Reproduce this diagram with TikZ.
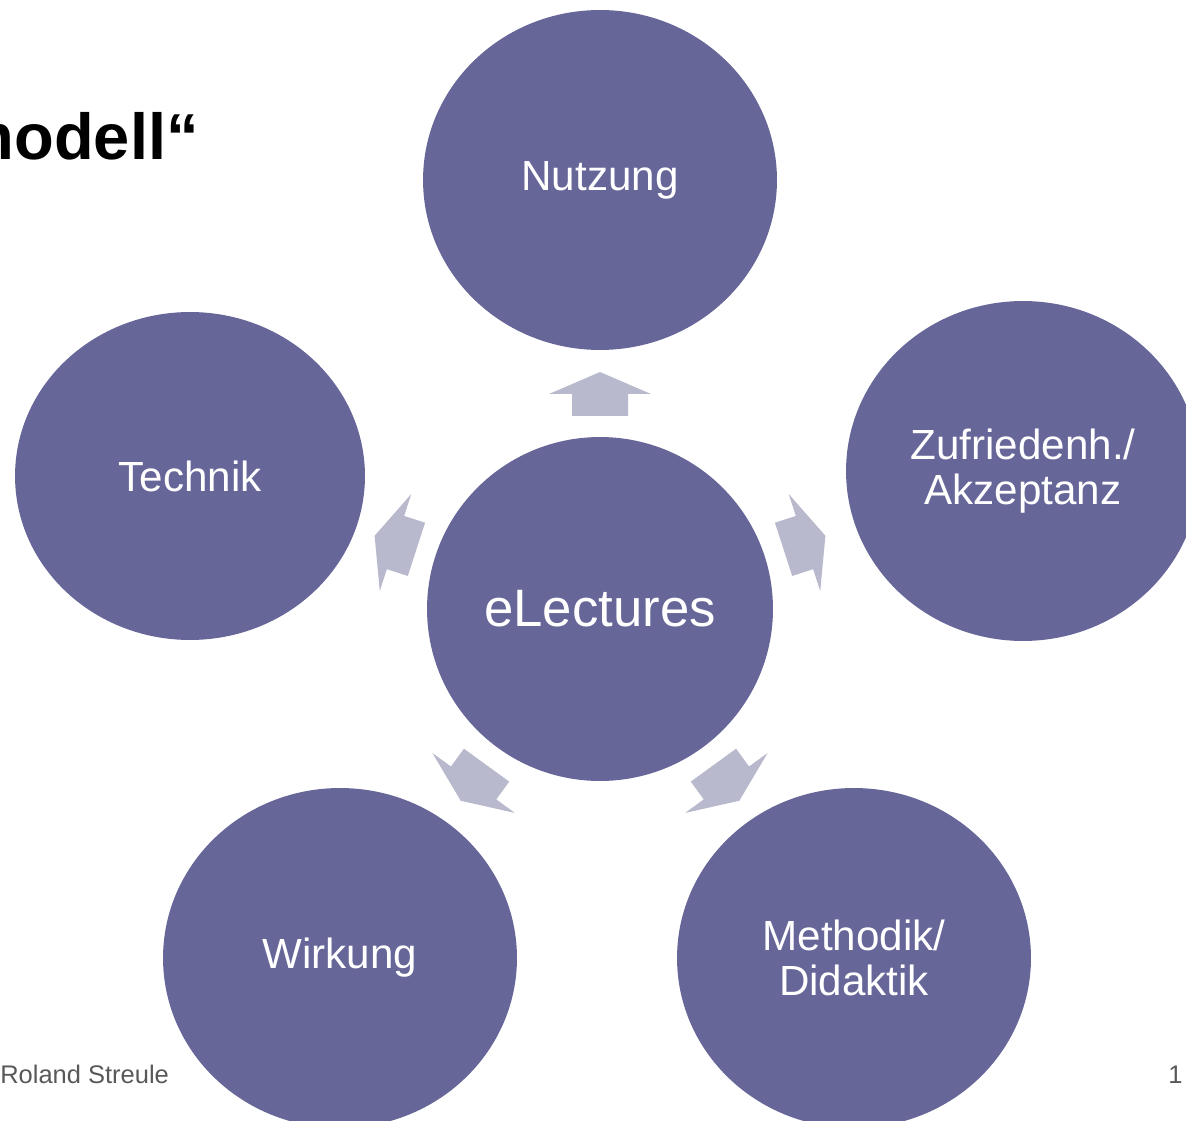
\documentclass[tikz,border=0pt]{standalone}
\usepackage{fontspec}
\setmainfont{Liberation Sans}
\usetikzlibrary{shapes.geometric}
\definecolor{bubble}{RGB}{102,102,153}
\definecolor{pointer}{RGB}{185,185,206}
\definecolor{footgray}{RGB}{89,89,89}

\begin{document}
\begin{tikzpicture}
        [
          x=0.02cm, y=-0.02cm,
          topic/.style={ellipse, fill=bubble, text=white, align=center,
            minimum width=7.08cm, minimum height=6.8cm, inner sep=0pt,
            font=\fontsize{24}{25.5}\selectfont},
          foot/.style={text=footgray, font=\fontsize{14.5}{16}\selectfont}
        ]
        \useasboundingbox (0,0) rectangle (1186,1121);
        \clip (0,0) rectangle (1186,1121);
        % title
        \node [anchor=base east, inner sep=0pt, font=\fontsize{37}{40}\bfseries\selectfont] (title) at (199,160) {modell“};
        % topics
        \node [topic] (nutz) at (600,180) {Nutzung};
        \node [topic, minimum width=7cm, minimum height=6.56cm] (tech) at (190,476) {Technik};
        \node [topic] (zufr) at (1023,471) {Zufriedenh./\\Akzeptanz};
        \node [topic] (wirk) at (340,958) {Wirkung};
        \node [topic] (meth) at (854,958) {Methodik/\\Didaktik};
        \node [topic, minimum width=6.92cm, minimum height=6.88cm,
          font=\fontsize{30}{32}\selectfont] (elec) at (600,609) {eLectures};
        % arrows
        \foreach \a in {90,18,-54,-126,162} {
            \begin{scope}[shift={(elec.center)}, rotate=\a]
                \fill [pointer] (193,-28) -- (215,-28) -- (215,-51) -- (237,0)
                  -- (215,51) -- (215,28) -- (193,28) -- cycle;
            \end{scope}
        }
        % footer
        \node [foot, anchor=base west, inner sep=0pt] (author) at (0,1083) {Roland Streule};
        \node [foot, anchor=base east, inner sep=0pt] (page) at (1183,1083) {1};
      \end{tikzpicture}
\end{document}
